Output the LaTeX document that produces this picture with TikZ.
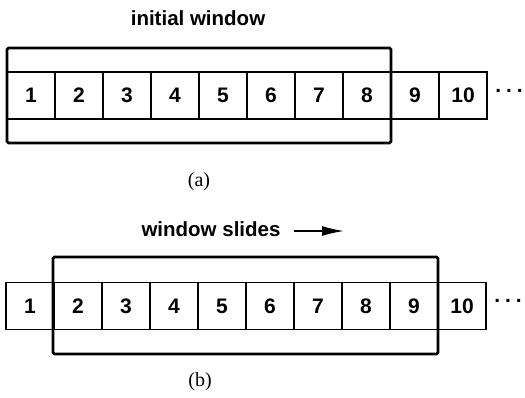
\documentclass[tikz,border=0pt]{standalone}
\usepackage{fontspec}
\setmainfont{Liberation Serif}
\newfontfamily\hv{Liberation Sans}
\usetikzlibrary{arrows.meta}
\begin{document}
\begin{tikzpicture}[x=1pt,y=-1pt,
  cell/.style={draw,line width=1.6pt,minimum width=48pt,minimum height=47pt,inner sep=0pt,font=\hv\bfseries\fontsize{21}{21}\selectfont},
  win/.style={draw,line width=2.6pt,rounded corners=1.5pt,inner sep=0pt},
  lab/.style={font=\hv\bfseries\fontsize{20.5}{21}\selectfont},
  captext/.style={font=\fontsize{20}{21}\selectfont},
  dots/.style={font=\hv\bfseries\fontsize{21}{21}\selectfont}]
\useasboundingbox (0,0) rectangle (525,398);
% (a)
\foreach \i in {1,...,10} {
  \node[cell] (a\i) at ({7+48*(\i-1)+24},95.5) {\i};
}
\node[dots] (adots) at (509,91) {.\hspace{5pt}.\hspace{5pt}.};
\node[win,minimum width=384pt,minimum height=95pt] (awin) at (199,95.5) {};
\node[lab] (atitle) at (198,18) {initial window};
\node[captext] (acap) at (199,182) {(a)};
% (b)
\foreach \i in {1,...,10} {
  \node[cell] (b\i) at ({6+48*(\i-1)+24},306) {\i};
}
\node[dots] (bdots) at (508,301) {.\hspace{5pt}.\hspace{5pt}.};
\node[win,minimum width=385pt,minimum height=97pt] (bwin) at (245.5,305.5) {};
\node[lab,anchor=east] (btitle) at (284,229) {window slides};
\coordinate (arrs) at (294,231);
\coordinate (arre) at (344,231);
\draw[line width=1.5pt,-{Latex[length=22pt,width=10pt]}] (arrs) -- (arre);
\node[captext] (bcap) at (200,382) {(b)};
\end{tikzpicture}
\end{document}
